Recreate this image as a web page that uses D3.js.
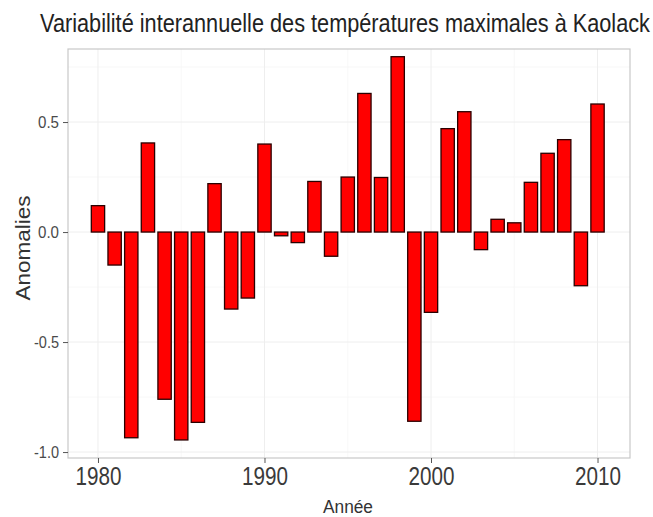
<!DOCTYPE html>
<html>
<head>
<meta charset="utf-8">
<script src="https://cdn.jsdelivr.net/npm/d3@7"></script>
<style>
  body { margin: 0; background: #fff; }
  text { font-family: "Liberation Sans", Arial, sans-serif; }
</style>
</head>
<body>
<div id="chart"></div>
<script>
// Data: temperature anomalies per year
var years = d3.range(1980, 2011);
var anomalies = [0.12, -0.15, -0.935, 0.405, -0.76, -0.945, -0.865, 0.22, -0.35, -0.30,
                 0.40, -0.017, -0.048, 0.23, -0.11, 0.25, 0.63, 0.248, 0.797, -0.86,
                 -0.365, 0.47, 0.547, -0.08, 0.058, 0.042, 0.226, 0.358, 0.42, -0.244,
                 0.582];
var xTicks = [1980, 1990, 2000, 2010];
var yTicks = [-1.0, -0.5, 0.0, 0.5];
var yMinor = [-0.75, -0.25, 0.25, 0.75];
var xMinor = [1985, 1995, 2005];

var svgWidth = 653;
var svgHeight = 517;

// Panel position
var margin = { top: 49, right: 23, bottom: 59, left: 68 };
var width = svgWidth - margin.left - margin.right;
var height = svgHeight - margin.top - margin.bottom;

var svg = d3.select("#chart")
    .append("svg")
    .attr("width", svgWidth)
    .attr("height", svgHeight);

var chartGroup = svg.append("g")
    .attr("transform", `translate(${margin.left}, ${margin.top})`);

var xScale = d3.scaleLinear()
    .domain([1978.2, 2011.95])
    .range([0, width]);

var yScale = d3.scaleLinear()
    .domain([-1.027, 0.832])
    .range([height, 0]);

// Grid lines
chartGroup.selectAll(".minor-y")
    .data(yMinor)
    .enter()
    .append("line")
    .attr("x1", 0).attr("x2", width)
    .attr("y1", d => yScale(d)).attr("y2", d => yScale(d))
    .attr("stroke", "#f6f6f6")
    .attr("stroke-width", 0.8);

chartGroup.selectAll(".minor-x")
    .data(xMinor)
    .enter()
    .append("line")
    .attr("y1", 0).attr("y2", height)
    .attr("x1", d => xScale(d)).attr("x2", d => xScale(d))
    .attr("stroke", "#f6f6f6")
    .attr("stroke-width", 0.8);

chartGroup.selectAll(".major-y")
    .data(yTicks)
    .enter()
    .append("line")
    .attr("x1", 0).attr("x2", width)
    .attr("y1", d => yScale(d)).attr("y2", d => yScale(d))
    .attr("stroke", "#eeeeee")
    .attr("stroke-width", 1);

chartGroup.selectAll(".major-x")
    .data(xTicks)
    .enter()
    .append("line")
    .attr("y1", 0).attr("y2", height)
    .attr("x1", d => xScale(d)).attr("x2", d => xScale(d))
    .attr("stroke", "#eeeeee")
    .attr("stroke-width", 1);

// Bars
var barWidth = xScale(1980.8) - xScale(1980);
chartGroup.selectAll(".bar")
    .data(anomalies)
    .enter()
    .append("rect")
    .attr("x", (d, i) => xScale(years[i]) - barWidth / 2)
    .attr("y", d => yScale(Math.max(0, d)))
    .attr("width", barWidth)
    .attr("height", d => Math.abs(yScale(d) - yScale(0)))
    .attr("fill", "#ff0000")
    .attr("stroke", "#2a0000")
    .attr("stroke-width", 1.3);

// Panel border
chartGroup.append("rect")
    .attr("width", width)
    .attr("height", height)
    .attr("fill", "none")
    .attr("stroke", "#c8c8c8")
    .attr("stroke-width", 1.2);

// Axes
var bottomAxis = d3.axisBottom(xScale).tickValues(xTicks).tickSize(5).tickPadding(4).tickFormat(d3.format("d"));
var leftAxis = d3.axisLeft(yScale).tickValues(yTicks).tickSize(5).tickPadding(4)
    .tickFormat(d => d3.format(".1f")(d).replace("\u2212", "-"));

var bx = chartGroup.append("g")
    .attr("transform", `translate(0, ${height})`)
    .call(bottomAxis);
bx.select(".domain").remove();
bx.selectAll("line").attr("stroke", "#555");
bx.selectAll("text")
    .attr("font-size", "26px")
    .attr("fill", "#3a3a3a")
    .attr("textLength", 46)
    .attr("lengthAdjust", "spacingAndGlyphs");

var ly = chartGroup.append("g")
    .call(leftAxis);
ly.select(".domain").remove();
ly.selectAll("line").attr("stroke", "#555");
ly.selectAll("text")
    .attr("font-size", "16px")
    .attr("fill", "#4a4a4a")
    .attr("dy", "0.36em")
    .attr("textLength", d => d < 0 ? 25 : 21)
    .attr("lengthAdjust", "spacingAndGlyphs");

// Title (stretched vertically for the narrow look)
svg.append("text")
    .attr("transform", "translate(345, 32) scale(1.01, 1.2)")
    .attr("text-anchor", "middle")
    .attr("font-size", "21.5px")
    .attr("fill", "#222")
    .text("Variabilité interannuelle des températures maximales à Kaolack");

// Axis titles
svg.append("text")
    .attr("x", 348)
    .attr("y", 513)
    .attr("text-anchor", "middle")
    .attr("font-size", "18px")
    .attr("fill", "#333")
    .attr("textLength", 50)
    .attr("lengthAdjust", "spacingAndGlyphs")
    .text("Année");

svg.append("text")
    .attr("transform", `translate(30, 248) rotate(-90)`)
    .attr("text-anchor", "middle")
    .attr("font-size", "20px")
    .attr("fill", "#333")
    .attr("textLength", 105)
    .attr("lengthAdjust", "spacingAndGlyphs")
    .text("Anomalies");
</script>
</body>
</html>
